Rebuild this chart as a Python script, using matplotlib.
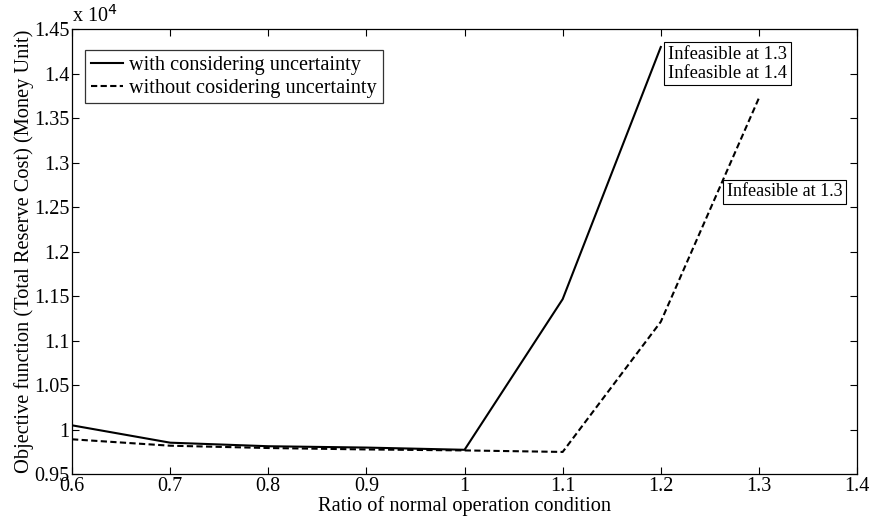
import matplotlib
matplotlib.use('Agg')
import matplotlib.pyplot as plt

# Данные (значения в денежных единицах)
ratio_with = [0.6, 0.7, 0.8, 0.9, 1.0, 1.1, 1.2]
cost_with = [10047, 9852, 9812, 9797, 9772, 11465, 14298]
ratio_without = [0.6, 0.7, 0.8, 0.9, 1.0, 1.1, 1.2, 1.3]
cost_without = [9890, 9818, 9792, 9776, 9765, 9748, 11211, 13725]

x_ticks = [0.6, 0.7, 0.8, 0.9, 1.0, 1.1, 1.2, 1.3, 1.4]
x_labels = ['0.6', '0.7', '0.8', '0.9', '1', '1.1', '1.2', '1.3', '1.4']
y_ticks = [0.95, 1.0, 1.05, 1.1, 1.15, 1.2, 1.25, 1.3, 1.35, 1.4, 1.45]
y_labels = ['0.95', '1', '1.05', '1.1', '1.15', '1.2', '1.25', '1.3', '1.35', '1.4', '1.45']
scale = 1e4

plt.rcParams['font.family'] = ['Liberation Serif', 'DejaVu Serif']
plt.rcParams['font.size'] = 14

fig = plt.figure(figsize=(8.71, 5.21), dpi=100)
ax = fig.add_axes([0.0827, 0.0902, 0.9013, 0.8541])

ax.plot(ratio_with, [c / scale for c in cost_with], color='black', linewidth=1.5,
        linestyle='-', label='with considering uncertainty')
ax.plot(ratio_without, [c / scale for c in cost_without], color='black', linewidth=1.5,
        linestyle=(0, (3, 1.6)), label='without cosidering uncertainty')

ax.set_xlim(0.6, 1.4)
ax.set_ylim(0.95, 1.45)
ax.set_xticks(x_ticks)
ax.set_xticklabels(x_labels)
ax.set_yticks(y_ticks)
ax.set_yticklabels(y_labels)
ax.tick_params(direction='in', top=True, right=True, length=5, width=0.8, labelsize=14.5, pad=2)
for s in ax.spines.values():
    s.set_linewidth(0.9)

ax.set_xlabel('Ratio of normal operation condition', fontsize=14.7, labelpad=0)
ax.set_ylabel('Objective function (Total Reserve Cost) (Money Unit)', fontsize=14.7, labelpad=0)

# множитель x 10^4 в стиле MATLAB
ax.text(0.0, 1.005, r'x 10$^{4}$', transform=ax.transAxes, fontsize=14.5,
        ha='left', va='bottom')

leg = ax.legend(loc='upper left', bbox_to_anchor=(0.0166, 0.953), fontsize=14.6, frameon=True,
                fancybox=False, edgecolor='black', handlelength=1.6, borderaxespad=0,
                handletextpad=0.3, borderpad=0.28, labelspacing=0.18)
leg.get_frame().set_linewidth(0.9)

box = dict(boxstyle='square,pad=0.2', facecolor='white', edgecolor='black', linewidth=0.8)
ax.text(1.2075, 1.411, 'Infeasible at 1.3\nInfeasible at 1.4', fontsize=13.3, ha='left',
        va='center', bbox=box, linespacing=1.12)
ax.text(1.2675, 1.267, 'Infeasible at 1.3', fontsize=13, ha='left', va='center', bbox=box)

fig.savefig('out.png', dpi=100)
